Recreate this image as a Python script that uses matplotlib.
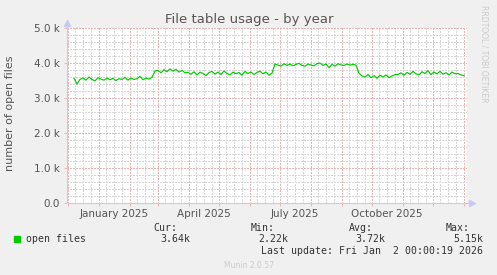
import numpy as np
import pandas as pd
import matplotlib
matplotlib.use('Agg')
import matplotlib.pyplot as plt
import matplotlib.dates as mdates
from matplotlib.ticker import MultipleLocator, FuncFormatter
from matplotlib.transforms import blended_transform_factory

# open files (in thousands), one sample every 3 days from 2024-12-07
seg_dec_feb = [3.56, 3.40, 3.53, 3.57, 3.51, 3.60, 3.53, 3.49, 3.58, 3.54, 3.51, 3.57, 3.52, 3.56,
               3.50, 3.55, 3.53, 3.59, 3.51, 3.57, 3.53, 3.55, 3.62, 3.52, 3.57, 3.54, 3.59]
seg_mar = [3.77, 3.79, 3.72, 3.81, 3.75, 3.83, 3.77, 3.82, 3.74, 3.79, 3.72]
seg_apr_jun = [3.73, 3.68, 3.75, 3.66, 3.74, 3.70, 3.64, 3.73, 3.76, 3.68, 3.74, 3.67, 3.77, 3.70, 3.66,
               3.74, 3.69, 3.73, 3.65, 3.76, 3.70, 3.74, 3.67, 3.73, 3.77, 3.69, 3.74, 3.65, 3.71]
seg_jun_aug = [3.97, 3.94, 3.91, 3.98, 3.93, 3.97, 3.92, 3.96, 3.99, 3.93, 3.91, 3.97, 3.94, 3.92,
               3.98, 4.00, 3.93, 3.97, 3.87, 3.96, 3.91, 3.98, 3.94, 3.93, 3.97, 3.94, 3.96, 3.94]
seg_sep = [3.71, 3.63, 3.60, 3.67, 3.58, 3.64, 3.56, 3.65, 3.60, 3.66, 3.58, 3.63, 3.67]
seg_oct_dec = [3.67, 3.72, 3.65, 3.73, 3.68, 3.76, 3.69, 3.66, 3.75, 3.70, 3.78, 3.67, 3.74, 3.69,
               3.76, 3.68, 3.72, 3.66, 3.74, 3.69, 3.70, 3.66, 3.64]

open_files_k = seg_dec_feb + seg_mar + seg_apr_jun + seg_jun_aug + seg_sep + seg_oct_dec
dates = pd.date_range('2024-12-07', periods=len(open_files_k), freq='3D')
open_files = np.array(open_files_k) * 1000

month_labels = ['January 2025', 'April 2025', 'July 2025', 'October 2025']
label_dates = pd.to_datetime(['2025-01-16', '2025-04-16', '2025-07-16', '2025-10-16'])

stats_names = ['Cur:', 'Min:', 'Avg:', 'Max:']
stats_values = ['3.64k', '2.22k', '3.72k', '5.15k']

BG = '#F0F0F0'
GREEN = '#00CC00'
TXT = '#555555'
AXC = '#C8C8F8'
MAJ = '#EDB4B4'
MIN = '#D8D8D8'

W, H = 497, 275
fig = plt.figure(figsize=(W / 100, H / 100), dpi=100, facecolor=BG)
ax = fig.add_axes([67 / W, 72 / H, 400 / W, 175 / H])
ax.set_facecolor('white')

ax.plot(dates, open_files, color=GREEN, lw=0.85, zorder=3)

ax.set_xlim(pd.Timestamp('2024-11-30'), pd.Timestamp('2026-01-04'))
ax.set_ylim(0, 5000)

# grid, dotted like rrdtool
ax.xaxis.set_major_locator(mdates.MonthLocator())
ax.xaxis.set_minor_locator(mdates.DayLocator(bymonthday=[8, 16, 24]))
ax.yaxis.set_major_locator(MultipleLocator(1000))
ax.yaxis.set_minor_locator(MultipleLocator(200))
ax.grid(which='minor', color=MIN, lw=0.72, ls=(0, (1.4, 1.4)), antialiased=False, zorder=1)
ax.grid(which='major', color=MAJ, lw=0.72, ls=(0, (1.4, 1.4)), antialiased=False, zorder=2)
ax.set_axisbelow(True)

ax.xaxis.set_major_formatter(plt.NullFormatter())
ax.tick_params(axis='x', which='major', length=2, color=MAJ, width=0.72)
ax.tick_params(axis='x', which='minor', length=0)
ax.tick_params(axis='y', which='major', length=2, color=MAJ, width=0.72,
               labelsize=7.5, labelcolor=TXT, pad=3)
ax.tick_params(axis='y', which='minor', length=0)
ax.yaxis.set_major_formatter(FuncFormatter(lambda v, p: '0.0' if v == 0 else f'{v / 1000:.1f} k'))

for s in ['top', 'right']:
    ax.spines[s].set_visible(False)
for s in ['left', 'bottom']:
    ax.spines[s].set_color(AXC)
    ax.spines[s].set_linewidth(0.8)

# axis arrows
ax.plot([0, 0], [1, 1.03], color=AXC, lw=0.8, transform=ax.transAxes, clip_on=False)
ax.plot([0], [1.03], marker='^', ms=4, color=AXC, transform=ax.transAxes, clip_on=False)
ax.plot([1, 1.012], [0, 0], color=AXC, lw=0.8, transform=ax.transAxes, clip_on=False)
ax.plot([1.012], [0], marker='>', ms=4, color=AXC, transform=ax.transAxes, clip_on=False)

# month labels in the middle of the month
trans = blended_transform_factory(ax.transData, ax.transAxes)
for d, lab in zip(label_dates, month_labels):
    ax.text(d, -0.035, lab, transform=trans, ha='center', va='top', fontsize=7.5, color=TXT)

fig.text(249 / W, 1 - 19 / H, 'File table usage - by year', ha='center', va='center',
         fontsize=9.5, color=TXT)
fig.text(10 / W, 1 - 113 / H, 'number of open files', rotation=90, ha='center', va='center',
         fontsize=8, color=TXT)
fig.text(484 / W, 1 - 5 / H, 'RRDTOOL / TOBI OETIKER', rotation=270, ha='center', va='top',
         fontsize=5.5, color='#CCCCCC')

# legend
mono = 'DejaVu Sans Mono'
fig.patches.append(plt.Rectangle((14 / W, 1 - 242 / H), 6 / W, 6 / H, color=GREEN,
                                 transform=fig.transFigure))
fig.text(26 / W, 1 - 239 / H, 'open files', family=mono, fontsize=7.1, color='#333333', va='center')
name_right = [177, 275, 373, 470]
val_right = [190, 288, 385, 483]
for n, v, xn, xv in zip(stats_names, stats_values, name_right, val_right):
    fig.text(xn / W, 1 - 228 / H, n, family=mono, fontsize=7.1, color='#333333', ha='right', va='center')
    fig.text(xv / W, 1 - 239 / H, v, family=mono, fontsize=7.1, color='#333333', ha='right', va='center')
fig.text(483 / W, 1 - 251 / H, 'Last update: Fri Jan  2 00:00:19 2026', family=mono, fontsize=7.1,
         color='#333333', ha='right', va='center')
fig.text(249 / W, 1 - 265 / H, 'Munin 2.0.57', ha='center', va='center', fontsize=5.5, color='#CCCCCC')

fig.savefig('out.png', dpi=100, facecolor=BG)
